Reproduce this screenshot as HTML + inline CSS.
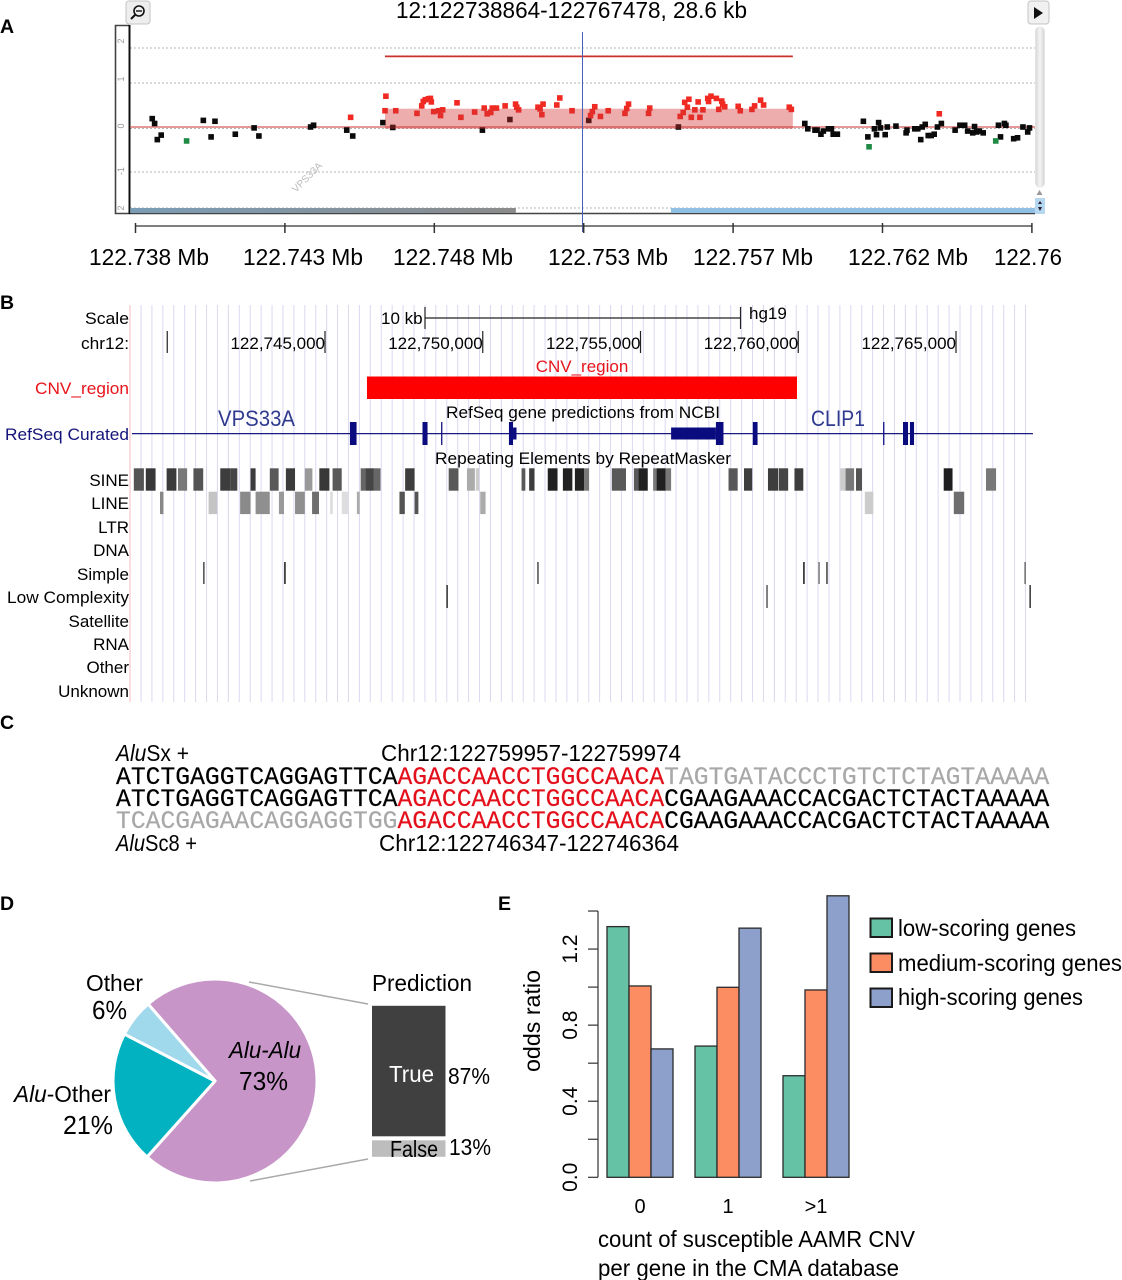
<!DOCTYPE html>
<html lang="en">
<head>
<meta charset="utf-8">
<title>CNV region figure</title>
<style>
html,body{margin:0;padding:0;background:#fff;}
svg{display:block;}
text{font-family:"Liberation Sans",sans-serif;fill:#000;}
.panel{font-weight:bold;font-size:19.5px;}
.ucsc{font-size:17px;}
.cal{font-size:23.5px;}
.seq{font-family:"Liberation Mono",monospace;font-size:24.7px;stroke:#000;stroke-width:.2px;}
</style>
</head>
<body>
<svg id="fig" xmlns="http://www.w3.org/2000/svg" width="1122" height="1280" viewBox="0 0 1122 1280">
<defs>
<linearGradient id="navGrad" x1="0" x2="1" y1="0" y2="0"><stop offset="0" stop-color="#7b9db6"/><stop offset="1" stop-color="#8b8b8b"/></linearGradient>
<linearGradient id="scrollGrad" x1="0" x2="1" y1="0" y2="0"><stop offset="0" stop-color="#d8d8d8"/><stop offset=".5" stop-color="#f4f4f4"/><stop offset="1" stop-color="#d4d4d4"/></linearGradient>
</defs>

<text class="panel" x="0" y="33">A</text>
<text class="panel" x="0" y="309">B</text>
<text class="panel" x="0" y="729">C</text>
<text class="panel" x="0" y="910">D</text>
<text class="panel" x="498" y="910">E</text>

<!-- PANEL A static -->
<g>
<rect x="126" y="1" width="24" height="23" rx="3" fill="#eee" stroke="#c4c4c4"/>
<circle cx="139" cy="11" r="5" fill="none" stroke="#111" stroke-width="1.6"/>
<line x1="136" y1="11" x2="142" y2="11" stroke="#111" stroke-width="1.4"/>
<line x1="135" y1="15" x2="131" y2="19" stroke="#111" stroke-width="2"/>
</g>
<g>
<rect x="1028" y="1" width="21" height="23" rx="3" fill="#f1f1f1" stroke="#c4c4c4"/>
<path d="M1034 7 L1034 19 L1043 13 Z" fill="#111"/>
</g>
<text class="cal" x="396" y="18" textLength="351" lengthAdjust="spacingAndGlyphs">12:122738864-122767478, 28.6 kb</text>
<g id="panelA"></g>
<g>
<rect x="1035.5" y="27" width="9" height="160" rx="4" fill="url(#scrollGrad)" stroke="#ddd" stroke-width=".6"/>
<path d="M1039.5 190 L1036.5 195 L1042.5 195 Z" fill="#999"/>
<rect x="1035" y="198" width="10" height="16" fill="#b6d7f0"/>
<path d="M1040 201 L1038 204 L1042 204 Z M1040 211 L1038 207 L1042 207 Z" fill="#223"/>
</g>
<text class="cal" x="89" y="265" textLength="120" lengthAdjust="spacingAndGlyphs">122.738 Mb</text>
<text class="cal" x="243" y="265" textLength="120" lengthAdjust="spacingAndGlyphs">122.743 Mb</text>
<text class="cal" x="393" y="265" textLength="120" lengthAdjust="spacingAndGlyphs">122.748 Mb</text>
<text class="cal" x="548" y="265" textLength="120" lengthAdjust="spacingAndGlyphs">122.753 Mb</text>
<text class="cal" x="693" y="265" textLength="120" lengthAdjust="spacingAndGlyphs">122.757 Mb</text>
<text class="cal" x="848" y="265" textLength="120" lengthAdjust="spacingAndGlyphs">122.762 Mb</text>
<text class="cal" x="994" y="265" textLength="68" lengthAdjust="spacingAndGlyphs">122.76</text>

<!-- PANEL B -->
<g id="panelB"></g>
<text class="ucsc" x="129" y="324" text-anchor="end" textLength="44" lengthAdjust="spacingAndGlyphs">Scale</text>
<text class="ucsc" x="129" y="349" text-anchor="end" textLength="48" lengthAdjust="spacingAndGlyphs">chr12:</text>
<text class="ucsc" x="129" y="394" text-anchor="end" textLength="94" lengthAdjust="spacingAndGlyphs" style="fill:#e8141c">CNV_region</text>
<text class="ucsc" x="129" y="440" text-anchor="end" textLength="124" lengthAdjust="spacingAndGlyphs" style="fill:#14147a">RefSeq Curated</text>
<text class="ucsc" x="129" y="486" text-anchor="end">SINE</text>
<text class="ucsc" x="129" y="509" text-anchor="end">LINE</text>
<text class="ucsc" x="129" y="533" text-anchor="end">LTR</text>
<text class="ucsc" x="129" y="556" text-anchor="end">DNA</text>
<text class="ucsc" x="129" y="580" text-anchor="end">Simple</text>
<text class="ucsc" x="129" y="603" text-anchor="end" textLength="122" lengthAdjust="spacingAndGlyphs">Low Complexity</text>
<text class="ucsc" x="129" y="627" text-anchor="end">Satellite</text>
<text class="ucsc" x="129" y="650" text-anchor="end">RNA</text>
<text class="ucsc" x="129" y="673" text-anchor="end">Other</text>
<text class="ucsc" x="129" y="697" text-anchor="end">Unknown</text>
<text class="ucsc" x="381" y="324">10 kb</text>
<text class="ucsc" x="749" y="319">hg19</text>
<text class="ucsc" x="582" y="372" text-anchor="middle" style="fill:#e8141c">CNV_region</text>
<text class="ucsc" x="446" y="418" textLength="274" lengthAdjust="spacingAndGlyphs">RefSeq gene predictions from NCBI</text>
<text class="ucsc" x="435" y="464" textLength="296" lengthAdjust="spacingAndGlyphs">Repeating Elements by RepeatMasker</text>
<text x="218" y="426" font-size="22" textLength="77" lengthAdjust="spacingAndGlyphs" style="fill:#2f3a8f">VPS33A</text>
<text x="811" y="426" font-size="22" textLength="54" lengthAdjust="spacingAndGlyphs" style="fill:#2f3a8f">CLIP1</text>

<!-- PANEL C -->
<text class="cal" x="116" y="761" textLength="73" lengthAdjust="spacingAndGlyphs"><tspan font-style="italic">Alu</tspan>Sx +</text>
<text class="cal" x="381" y="761" textLength="300" lengthAdjust="spacingAndGlyphs">Chr12:122759957-122759974</text>
<text class="seq" x="116" y="784">ATCTGAGGTCAGGAGTTCA<tspan style="fill:#e3101c;stroke:#e3101c">AGACCAACCTGGCCAACA</tspan><tspan style="fill:#a8a8a8;stroke:#a8a8a8">TAGTGATACCCTGTCTCTAGTAAAAA</tspan></text>
<text class="seq" x="116" y="806">ATCTGAGGTCAGGAGTTCA<tspan style="fill:#e3101c;stroke:#e3101c">AGACCAACCTGGCCAACA</tspan>CGAAGAAACCACGACTCTACTAAAAA</text>
<text class="seq" x="116" y="828"><tspan style="fill:#a8a8a8;stroke:#a8a8a8">TCACGAGAACAGGAGGTGG</tspan><tspan style="fill:#e3101c;stroke:#e3101c">AGACCAACCTGGCCAACA</tspan>CGAAGAAACCACGACTCTACTAAAAA</text>
<text class="cal" x="116" y="851" textLength="81" lengthAdjust="spacingAndGlyphs"><tspan font-style="italic">Alu</tspan>Sc8 +</text>
<text class="cal" x="379" y="851" textLength="300" lengthAdjust="spacingAndGlyphs">Chr12:122746347-122746364</text>

<!-- PANEL D -->
<g id="panelD"></g>
<line x1="249" y1="982" x2="368" y2="1004" stroke="#a9a9a9" stroke-width="1.5"/>
<line x1="250" y1="1181" x2="368" y2="1159" stroke="#a9a9a9" stroke-width="1.5"/>
<text class="cal" x="86" y="991" textLength="57" lengthAdjust="spacingAndGlyphs">Other</text>
<text x="92" y="1019" font-size="26" textLength="35" lengthAdjust="spacingAndGlyphs">6%</text>
<text class="cal" x="14" y="1102" textLength="97" lengthAdjust="spacingAndGlyphs"><tspan font-style="italic">Alu</tspan>-Other</text>
<text x="63" y="1134" font-size="26" textLength="50" lengthAdjust="spacingAndGlyphs">21%</text>
<text class="cal" x="229" y="1058" font-style="italic" textLength="72" lengthAdjust="spacingAndGlyphs">Alu-Alu</text>
<text x="239" y="1090" font-size="26" textLength="49" lengthAdjust="spacingAndGlyphs">73%</text>
<text class="cal" x="372" y="991" textLength="100" lengthAdjust="spacingAndGlyphs">Prediction</text>
<text class="cal" x="389" y="1082" textLength="45" lengthAdjust="spacingAndGlyphs" style="fill:#fff">True</text>
<text class="cal" x="448" y="1084" textLength="42" lengthAdjust="spacingAndGlyphs">87%</text>
<text class="cal" x="390" y="1157" textLength="48" lengthAdjust="spacingAndGlyphs">False</text>
<text class="cal" x="449" y="1155" textLength="42" lengthAdjust="spacingAndGlyphs">13%</text>

<!-- PANEL E -->
<g id="panelE"></g>
<text x="0" y="0" font-size="23" text-anchor="middle" transform="translate(540,1021) rotate(-90)" textLength="102" lengthAdjust="spacingAndGlyphs">odds ratio</text>
<text class="cal" x="598" y="1247" textLength="317" lengthAdjust="spacingAndGlyphs">count of susceptible AAMR CNV</text>
<text class="cal" x="598" y="1276" textLength="301" lengthAdjust="spacingAndGlyphs">per gene in the CMA database</text>
<text class="cal" x="898" y="936" textLength="178" lengthAdjust="spacingAndGlyphs">low-scoring genes</text>
<text class="cal" x="898" y="971" textLength="224" lengthAdjust="spacingAndGlyphs">medium-scoring genes</text>
<text class="cal" x="898" y="1005" textLength="185" lengthAdjust="spacingAndGlyphs">high-scoring genes</text>
</svg>

<script>
// ---------- Panel A data: [kb from window start, log ratio]
const blackProbes = [[.56,.19],[.64,.08],[.73,-.28],[.86,-.18],[2.27,.15],[2.66,.13],[2.53,-.22],[3.34,-.16],[3.97,-.02],[4.13,-.20],[5.86,0],[5.96,.04],[7.07,-.07],[7.27,-.20],[8.28,.10],[8.61,-.01],[11.61,-.07],[12.53,.17],[15.17,.15],[18.17,0],[22.40,.08],[22.50,-.04],[22.74,-.07],[22.81,-.07],[22.94,-.16],[23.02,-.09],[23.19,-.04],[23.29,-.04],[23.35,-.16],[23.49,-.16],[24.36,.13],[24.51,-.22],[24.73,-.04],[24.87,.10],[24.93,-.02],[24.80,-.17],[25.09,-.17],[25.16,0],[25.45,.02],[25.79,-.13],[25.82,-.07],[26.08,-.04],[26.18,-.04],[26.33,0],[26.43,.06],[26.28,-.28],[26.53,-.19],[26.63,-.19],[26.73,-.16],[26.84,0],[26.97,.08],[27.43,-.07],[27.59,.04],[27.75,.04],[27.85,-.09],[28.02,-.13],[28.08,.01],[28.15,-.11],[28.24,-.09],[28.37,-.13],[28.88,.04],[29.08,.08],[29.13,.04],[28.95,-.22],[29.39,-.26],[29.52,-.24],[29.70,0],[29.86,-.11],[29.92,-.02]];
const redProbes = [[7.20,.22],[8.38,.70],[8.35,.37],[8.71,.37],[9.42,.31],[9.58,.48],[9.63,.58],[9.70,.62],[9.80,.64],[9.87,.65],[9.90,.57],[9.98,.35],[10.15,.37],[10.28,.39],[10.21,.26],[10.76,.55],[10.89,.22],[11.35,.34],[11.67,.43],[11.77,.30],[11.89,.33],[11.94,.43],[12.08,.43],[12.37,.48],[12.72,.52],[12.76,.45],[12.82,.39],[13.47,.45],[13.64,.52],[13.60,.28],[13.54,.41],[14.10,.50],[14.20,.66],[14.61,.37],[15.23,.26],[15.29,.35],[15.37,.46],[15.56,.24],[15.82,.37],[16.38,.31],[16.44,.42],[16.50,.52],[17.17,.31],[17.21,.43],[18.23,.24],[18.33,.33],[18.38,.56],[18.52,.63],[18.47,.45],[18.72,.39],[18.60,.22],[18.89,.22],[18.83,.57],[18.99,.39],[19.15,.65],[19.26,.70],[19.18,.58],[19.44,.65],[19.62,.59],[19.65,.52],[19.72,.46],[19.52,.40],[20.17,.47],[20.24,.37],[20.63,.40],[20.72,.48],[20.92,.61],[21.02,.50],[21.88,.45],[21.95,.40],[26.90,.30]];
const greenProbes = [[1.71,-.31],[24.55,-.44],[28.79,-.31]];
const segmentStartKb = 8.35;
const segmentEndKb = 22.0;
const segmentMean = 0.416;
const callLine = 1.76;
const cursorKb = 14.96;
const mbTicksKb = [0,5,10,15,20,25,30];
const gridValues = [2,1,0,-1,-2];
const yTickLabels = ['2','1','0','-1','2'];

// ---------- Panel B data: kb relative to chr12:122,745,000. Score = repeat shading 0-100
const chrTicksKb = [-5,0,5,10,15,20];
const chrTickLabels = ['','122,745,000','122,750,000','122,755,000','122,760,000','122,765,000'];
const cnvRegion = [1.33,14.96];
const geneSpan = [-6.12,22.44];
const codingExons = [[.79,1.00],[3.09,3.25],[3.68,3.72],[5.83,5.96],[12.39,12.63],[13.56,13.71],[17.69,17.73],[18.32,18.48],[18.54,18.67]];
const utrExons = [[5.96,6.07],[10.97,12.39]];
const sineRepeats = [[-6.06,-5.74,67],[-5.68,-5.37,78],[-5.02,-4.71,77],[-4.66,-4.37,53],[-4.17,-3.86,67],[-3.32,-3.00,76],[-3.00,-2.78,73],[-2.36,-2.20,77],[-1.75,-1.47,65],[-1.24,-.95,77],[-.64,-.40,40],[-.18,.14,78],[.24,.53,65],[1.13,1.28,60],[1.28,1.55,73],[1.55,1.76,60],[2.54,2.84,76],[3.92,4.23,65],[4.50,4.75,33],[4.78,4.89,20],[6.23,6.35,65],[6.47,6.64,76],[7.06,7.37,87],[7.54,7.84,87],[7.92,8.21,87],[8.21,8.37,53],[9.09,9.54,65],[9.79,9.93,65],[9.93,10.23,87],[10.40,10.51,53],[10.51,10.80,87],[10.80,10.97,53],[12.79,13.08,65],[13.28,13.54,76],[14.04,14.37,76],[14.39,14.68,73],[14.88,15.16,76],[16.33,16.50,20],[16.50,16.77,53],[16.83,17.02,67],[19.61,19.89,88],[20.95,21.27,53]];
const lineRepeats = [[-5.23,-5.12,47],[-3.69,-3.42,23],[-2.69,-2.36,46],[-2.20,-1.75,44],[-1.46,-1.30,40],[-.95,-.64,44],[-.41,-.19,57],[.16,.25,13],[.53,.73,13],[1.01,1.10,33],[2.36,2.53,67],[2.84,2.96,67],[4.92,5.09,33],[17.11,17.38,20],[19.93,20.26,57]];
const simpleRepeats = [[-3.84,75],[-1.27,97],[6.75,75],[15.18,97],[15.66,55],[15.91,80],[22.19,60]];
const lowComplexity = [[3.87,88],[14.01,70],[22.35,85]];

// ---------- Panel D data
const pieCategories = ['alu-alu','alu-other','other'];
const pieValues = [73,21,6];
const pieStartDeg = -41;
const predictionCategories = ['true','false'];
const predictionValues = [87,11]; // heights as drawn in the picture

// ---------- Panel E data
const barCategories = ['0','1','>1'];
const lowScoring = [1.318,0.69,0.534];
const mediumScoring = [1.006,0.999,0.985];
const highScoring = [0.675,1.31,1.48];
const oddsMajorTicks = [0,0.4,0.8,1.2];
const oddsMajorLabels = ['0.0','0.4','0.8','1.2'];
const oddsMinorTicks = [0.2,0.6,1.0,1.4];

const NS = 'http://www.w3.org/2000/svg';
function mk(parent, tag, attrs, txt){
  const el = document.createElementNS(NS, tag);
  for (const k in attrs) el.setAttribute(k, attrs[k]);
  if (txt !== undefined) el.textContent = txt;
  parent.appendChild(el);
  return el;
}
const panelA = document.getElementById('panelA');
const panelB = document.getElementById('panelB');
const panelD = document.getElementById('panelD');
const panelE = document.getElementById('panelE');

// Panel A axes
function xA(kb){ return 135.5 + 29.88*kb; }
function yA(v){
  if (v >= 1) return 83 - 35*(v-1);
  if (v >= 0) return 127 - 44*v;
  if (v >= -1) return 127 - 45*v;
  return 172 - 36*(v+1);
}
gridValues.forEach(function(v,i){
  const g = mk(panelA,'line',{x1:130,x2:1035,y1:yA(v)+(v===0?1.5:0),y2:yA(v)+(v===0?1.5:0),stroke:'#b4b4b4','stroke-width':1,'stroke-dasharray':'2 2'});
  
  
  const t = mk(panelA,'text',{x:0,y:0,'font-size':9,transform:'translate(124,'+(yA(v)-(v>0?(v===2?7:4):(v===0?1:(v===-1?1:0))))+') rotate(-90)','text-anchor':'middle',style:'fill:#999'},yTickLabels[i]);
  
  
});
const frame = mk(panelA,'path',{d:'M129.5 25.5 H115.5 V213.5 H1035',fill:'none',stroke:'#444','stroke-width':1.6});


const frameR = mk(panelA,'line',{x1:129.5,x2:129.5,y1:25,y2:214,stroke:'#111','stroke-width':2});


const nav1 = mk(panelA,'rect',{x:xA(-.18),y:208,width:xA(12.73)-xA(-.18),height:5,fill:'url(#navGrad)'});


const nav2 = mk(panelA,'rect',{x:xA(17.92),y:208,width:xA(30.1)-xA(17.92),height:5,fill:'#8fbfe2'});


const zero = mk(panelA,'line',{x1:130,x2:1035,y1:yA(0),y2:yA(0),stroke:'#d85a5a','stroke-width':1.2});


const vlab = mk(panelA,'text',{x:0,y:0,'font-size':10,transform:'translate(296,193) rotate(-45)',style:'fill:#bbb'},'VPS33A');


function drawProbes(list,color,name){
  list.forEach(function(p){
    const r = mk(panelA,'rect',{x:xA(p[0])-2.8,y:yA(p[1])-2.8,width:5.6,height:5.6,fill:color});
    
    
  });
}
drawProbes(blackProbes,'#0a0a0a','probe-neutral');
drawProbes(redProbes,'#f02a22','probe-gain');
drawProbes(greenProbes,'#1f8b45','probe-loss');
const seg = mk(panelA,'rect',{x:xA(segmentStartKb),y:yA(segmentMean),width:xA(segmentEndKb)-xA(segmentStartKb),height:yA(-0.04)-yA(segmentMean),fill:'rgba(210,50,50,.4)'});


const call = mk(panelA,'line',{x1:xA(segmentStartKb),x2:xA(segmentEndKb),y1:yA(callLine),y2:yA(callLine),stroke:'#c9302c','stroke-width':1.8});


const cur = mk(panelA,'line',{x1:xA(cursorKb),x2:xA(cursorKb),y1:32,y2:232,stroke:'#4a5fb5','stroke-width':1});


const axA = mk(panelA,'line',{x1:xA(mbTicksKb[0]),x2:xA(mbTicksKb[mbTicksKb.length-1]),y1:226,y2:226,stroke:'#555','stroke-width':1.4});


mbTicksKb.forEach(function(k){
  const t = mk(panelA,'line',{x1:xA(k),x2:xA(k),y1:223,y2:233,stroke:'#333','stroke-width':1.5});
  
  
});

// Panel B axes
function xB(kb){ return 325 + 31.55*kb; }
function shade(score){ const c = Math.round(255*(1-score/100)); return 'rgb('+c+','+c+','+c+')'; }
for (let x = 141; x <= 1031; x += 10.92){
  const l = mk(panelB,'line',{x1:x,x2:x,y1:305,y2:702,stroke:'#d9d9f1','stroke-width':1});
  
  
}
const pink = mk(panelB,'line',{x1:130,x2:130,y1:305,y2:702,stroke:'#f7cfcf','stroke-width':1.4});


const sb = mk(panelB,'path',{d:'M'+xB(3.17)+' 307 V329 M'+xB(3.17)+' 318 H'+xB(13.17)+' M'+xB(13.17)+' 307 V329',fill:'none',stroke:'#222','stroke-width':1.2});


chrTicksKb.forEach(function(k,i){
  const t = mk(panelB,'line',{x1:xB(k),x2:xB(k),y1:331,y2:353,stroke:'#222','stroke-width':1.2});
  
  
  if (chrTickLabels[i]) {
    const lb = mk(panelB,'text',{x:xB(k),y:349,'font-size':17,'text-anchor':'end'},chrTickLabels[i]);
    
    
  }
});
const cnv = mk(panelB,'rect',{x:xB(cnvRegion[0]),y:376.5,width:xB(cnvRegion[1])-xB(cnvRegion[0]),height:22.5,fill:'#ff0000'});


const gl = mk(panelB,'line',{x1:xB(geneSpan[0]),x2:xB(geneSpan[1]),y1:433.6,y2:433.6,stroke:'#1c1c80','stroke-width':1.2});


codingExons.forEach(function(e){
  const r = mk(panelB,'rect',{x:xB(e[0]),y:422,width:xB(e[1])-xB(e[0]),height:23,fill:'#0b0b80'});
  
  
});
utrExons.forEach(function(e){
  const r = mk(panelB,'rect',{x:xB(e[0]),y:427.5,width:xB(e[1])-xB(e[0]),height:12,fill:'#0b0b80'});
  
  
});
sineRepeats.forEach(function(e){
  const r = mk(panelB,'rect',{x:xB(e[0]),y:468.3,width:xB(e[1])-xB(e[0]),height:22.4,fill:shade(e[2])});
  
  
});
lineRepeats.forEach(function(e){
  const r = mk(panelB,'rect',{x:xB(e[0]),y:491.7,width:xB(e[1])-xB(e[0]),height:22.4,fill:shade(e[2])});
  
  
});
simpleRepeats.forEach(function(e){
  const r = mk(panelB,'rect',{x:xB(e[0])-.7,y:562,width:1.4,height:22,fill:shade(e[1])});
  
  
});
lowComplexity.forEach(function(e){
  const r = mk(panelB,'rect',{x:xB(e[0])-.7,y:585,width:1.4,height:23,fill:shade(e[1])});
  
  
});

// Panel D
const pieCx = 215, pieCy = 1081, pieR = 102;
const pieColors = ['#c795c8','#02b2c1','#a0d8ec'];
const pieTotal = pieValues.reduce(function(a,b){return a+b;},0);
function piePt(deg){ const a = deg*Math.PI/180; return [pieCx + pieR*Math.sin(a), pieCy - pieR*Math.cos(a)]; }
let angle = pieStartDeg;
pieValues.forEach(function(v,i){
  const sweep = 360*v/pieTotal;
  const a = piePt(angle), b = piePt(angle+sweep);
  const d = 'M'+pieCx+' '+pieCy+' L'+a[0]+' '+a[1]+' A'+pieR+' '+pieR+' 0 '+(sweep>180?1:0)+' 1 '+b[0]+' '+b[1]+' Z';
  const s = mk(panelD,'path',{d:d,fill:pieColors[i],stroke:'#fff','stroke-width':3,'stroke-linejoin':'round'});
  
  
  angle += sweep;
});
const predScale = 1.5;
let predY = 1005.8;
const predColors = ['#404040','#bdbdbd'];
predictionValues.forEach(function(v,i){
  const h = v*predScale;
  const r = mk(panelD,'rect',{x:372,y:predY,width:73.5,height:h,fill:predColors[i]});
  
  
  predY += h + 4;
});

// Panel E
const y0 = 1177.3, pxPerUnit = 190.2;
function yE(v){ return y0 - pxPerUnit*v; }
function xE(group,bar){ return 607 + group*88 + bar*22; }
const seriesList = [lowScoring,mediumScoring,highScoring];
const seriesColors = ['#66c2a5','#fc8d62','#8da0cb'];
const seriesNames = ['low','medium','high'];
barCategories.forEach(function(cat,g){
  seriesList.forEach(function(series,b){
    const r = mk(panelE,'rect',{x:xE(g,b),y:yE(series[g]),width:22,height:y0-yE(series[g]),fill:seriesColors[b],stroke:'#2b2b2b','stroke-width':1.3});
    
    
  });
  const t = mk(panelE,'text',{x:xE(g,1)+11,y:1213,'font-size':20,'text-anchor':'middle'},cat);
  
  
});
const ax = mk(panelE,'line',{x1:598,x2:598,y1:yE(0),y2:yE(1.4),stroke:'#333','stroke-width':1.2});


oddsMajorTicks.concat(oddsMinorTicks).forEach(function(v){
  const t = mk(panelE,'line',{x1:588,x2:598,y1:yE(v),y2:yE(v),stroke:'#333','stroke-width':1.2});
  
  
});
oddsMajorTicks.forEach(function(v,i){
  const t = mk(panelE,'text',{x:0,y:0,'font-size':21,'text-anchor':'middle',transform:'translate(577,'+yE(v)+') rotate(-90)'},oddsMajorLabels[i]);
  
  
});
seriesNames.forEach(function(n,i){
  const r = mk(panelE,'rect',{x:870.5,y:918.5+35*i,width:21.5,height:18.5,fill:seriesColors[i],stroke:'#1a1a1a','stroke-width':2});
  
  
});
</script>
</body>
</html>
